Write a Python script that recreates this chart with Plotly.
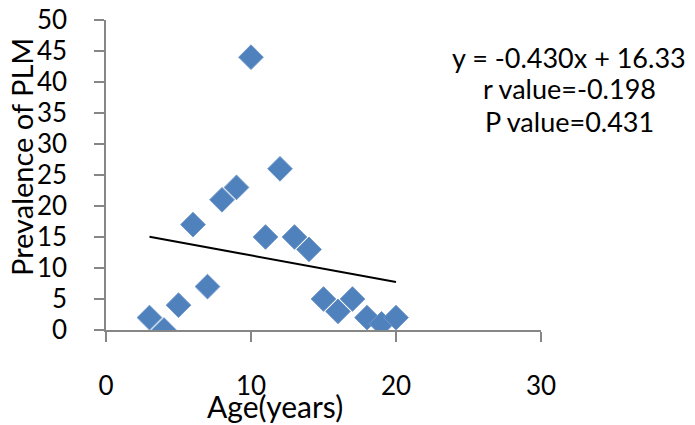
import plotly.graph_objects as go

# Data
age_years = [3, 4, 5, 6, 7, 8, 9, 10, 11, 12, 13, 14, 15, 16, 17, 18, 19, 20]
prevalence_plm = [2, 0, 4, 17, 7, 21, 23, 44, 15, 26, 15, 13, 5, 3, 5, 2, 1, 2]

# Linear fit stated on the chart: y = -0.430x + 16.33
fit_slope = -0.430
fit_intercept = 16.33
fit_x = [min(age_years), max(age_years)]
fit_y = [fit_slope * v + fit_intercept for v in fit_x]

x_ticks = [0, 10, 20, 30]
y_ticks = [0, 5, 10, 15, 20, 25, 30, 35, 40, 45, 50]

stat_lines = ["y = -0.430x + 16.33", "r value=-0.198", "P value=0.431"]

FONT = "Lato"
AX = "#868686"

fig = go.Figure()
fig.add_trace(go.Scatter(
    x=age_years, y=prevalence_plm, mode="markers",
    marker=dict(symbol="diamond", size=19, color="#4F81BD",
                line=dict(color="#6f97cb", width=1)),
    showlegend=False, hoverinfo="x+y"))
fig.add_trace(go.Scatter(
    x=fit_x, y=fit_y, mode="lines",
    line=dict(color="black", width=2), showlegend=False))

# page has an 8px body margin, so figure margins are offset by 8
fig.update_layout(
    width=695, height=425,
    margin=dict(l=98, r=162, t=12, b=103, autoexpand=False),
    paper_bgcolor="white", plot_bgcolor="white",
    font=dict(family=FONT, size=26, color="black"),
    xaxis=dict(range=[0, 30], tickvals=x_ticks, showgrid=False, zeroline=False,
               showline=True, linecolor=AX, linewidth=1.5, automargin=False,
               ticks="outside", ticklen=10, tickwidth=1.5, tickcolor=AX,
               ticklabelstandoff=22, ticklabeloverflow="allow",
               tickfont=dict(family=FONT, size=26)),
    yaxis=dict(range=[0, 50], tickvals=y_ticks, showgrid=False, zeroline=False,
               showline=True, linecolor=AX, linewidth=1.5, automargin=False,
               ticks="outside", ticklen=10, tickwidth=1.5, tickcolor=AX,
               ticklabelstandoff=22, ticklabeloverflow="allow",
               tickfont=dict(family=FONT, size=26)),
)

# helpers in page pixel coordinates (plot area: x 106..541, y 20..330)
W, L = 435.0, 106.0
H, B = 310.0, 330.0
def px(x):
    return (x - L) / W
def py(y):
    return (B - y) / H

fig.add_annotation(text="Age(years)", xref="paper", yref="paper",
                   x=px(275), y=py(406), xanchor="center", yanchor="middle",
                   showarrow=False, font=dict(family=FONT, size=30))
fig.add_annotation(text="Prevalence of PLM", xref="paper", yref="paper",
                   x=px(21), y=py(157), xanchor="center", yanchor="middle",
                   textangle=-90, showarrow=False, font=dict(family=FONT, size=29))

for txt, yc in zip(stat_lines, [57, 89, 121]):
    fig.add_annotation(text=txt, xref="paper", yref="paper",
                       x=px(569), y=py(yc), xanchor="center", yanchor="middle",
                       showarrow=False, font=dict(family=FONT, size=27))

fig.write_html("out.html")
